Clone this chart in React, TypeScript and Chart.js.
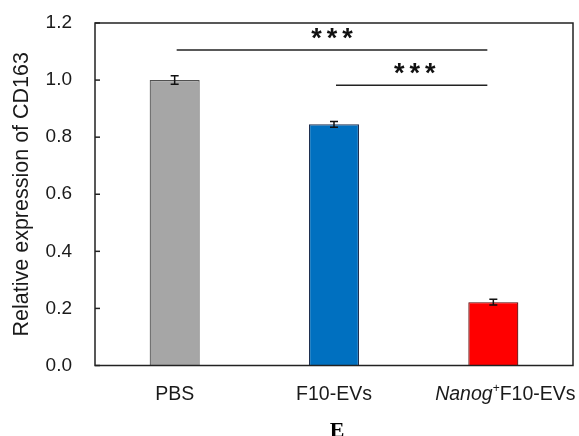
import React, { useEffect, useRef } from "react";
import { Chart, registerables } from "chart.js";

Chart.register(...registerables);

const categories = ["PBS", "F10-EVs", "Nanog+F10-EVs"];
const values = [1.0, 0.845, 0.222];
const errors = [0.015, 0.01, 0.01];
const barColors = ["#a6a6a6", "#0070c0", "#ff0000"];
const barBorders = ["#505050", "#1f2f4f", "#5a0000"];
const yTicks = [0, 0.2, 0.4, 0.6, 0.8, 1.0, 1.2];
// significance brackets: [fromIndex, toIndex, yValue, label]
const brackets: [number, number, number, string][] = [
  [0, 2, 1.105, "***"],
  [1, 2, 0.982, "***"],
];

const FONT = '"Liberation Sans", Arial, sans-serif';

const overlay = {
  id: "overlay",
  afterDatasetsDraw(chart: any) {
    const ctx = chart.ctx as CanvasRenderingContext2D;
    const x = chart.scales.x;
    const y = chart.scales.y;
    const a = chart.chartArea;
    ctx.save();
    // error bars
    ctx.strokeStyle = "#111";
    ctx.lineWidth = 1.5;
    values.forEach((v, i) => {
      const cx = x.getPixelForValue(i);
      const top = y.getPixelForValue(v + errors[i]);
      const bot = y.getPixelForValue(v - errors[i]);
      ctx.beginPath();
      ctx.moveTo(cx, top);
      ctx.lineTo(cx, bot);
      ctx.moveTo(cx - 4, top);
      ctx.lineTo(cx + 4, top);
      ctx.moveTo(cx - 4, bot);
      ctx.lineTo(cx + 4, bot);
      ctx.stroke();
    });
    // brackets
    ctx.strokeStyle = "#222";
    ctx.lineWidth = 1.5;
    ctx.fillStyle = "#111";
    ctx.font = `bold 27px ${FONT}`;
    ctx.textAlign = "center";
    ctx.textBaseline = "alphabetic";
    brackets.forEach(([f, t, v, label]) => {
      const x1 = x.getPixelForValue(f) + 2;
      const x2 = x.getPixelForValue(t) - 6;
      const py = y.getPixelForValue(v);
      ctx.beginPath();
      ctx.moveTo(x1, py);
      ctx.lineTo(x2, py);
      ctx.stroke();
      const mid = (x1 + x2) / 2 + (f === 1 ? 3 : 0);
      const n = label.length;
      for (let k = 0; k < n; k++) {
        ctx.fillText(label[k], mid + (k - (n - 1) / 2) * 15.5, py - 3);
      }
    });
    // frame
    ctx.strokeStyle = "#222";
    ctx.lineWidth = 1.5;
    ctx.strokeRect(a.left, a.top, a.right - a.left, a.bottom - a.top);
    // inward y ticks
    yTicks.forEach((t) => {
      const py = y.getPixelForValue(t);
      ctx.beginPath();
      ctx.moveTo(a.left, py);
      ctx.lineTo(a.left + 5, py);
      ctx.stroke();
    });
    // x labels
    ctx.fillStyle = "#1a1a1a";
    ctx.textBaseline = "middle";
    const ly = a.bottom + 29;
    const fs = 19.5;
    categories.forEach((c, i) => {
      const cx = x.getPixelForValue(i);
      if (c.startsWith("Nanog+")) {
        const p1 = "Nanog";
        const p2 = "+";
        const p3 = c.slice(6);
        ctx.font = `italic ${fs}px ${FONT}`;
        const w1 = ctx.measureText(p1).width;
        ctx.font = `12px ${FONT}`;
        const w2 = ctx.measureText(p2).width;
        ctx.font = `${fs}px ${FONT}`;
        const w3 = ctx.measureText(p3).width;
        let sx = cx + 12 - (w1 + w2 + w3) / 2;
        ctx.textAlign = "left";
        ctx.font = `italic ${fs}px ${FONT}`;
        ctx.fillText(p1, sx, ly);
        sx += w1;
        ctx.font = `12px ${FONT}`;
        ctx.fillText(p2, sx, ly - 6);
        sx += w2;
        ctx.font = `${fs}px ${FONT}`;
        ctx.fillText(p3, sx, ly);
      } else {
        ctx.textAlign = "center";
        ctx.font = `${fs}px ${FONT}`;
        ctx.fillText(c, cx, ly);
      }
    });
    // panel letter
    ctx.fillStyle = "#000";
    ctx.font = `bold 22px "Liberation Serif", serif`;
    ctx.textAlign = "center";
    ctx.textBaseline = "top";
    ctx.fillText("E", (a.left + a.right) / 2 + 3, a.bottom + 55);
    ctx.restore();
  },
};

export default function App() {
  const ref = useRef<HTMLCanvasElement>(null);
  useEffect(() => {
    document.body.style.margin = "0";
    const chart = new Chart(ref.current as HTMLCanvasElement, {
      type: "bar",
      data: {
        labels: categories,
        datasets: [
          {
            data: values,
            backgroundColor: barColors,
            borderColor: barBorders,
            borderWidth: 1.2,
            barPercentage: 0.314,
            categoryPercentage: 1,
          },
        ],
      },
      options: {
        animation: false,
        responsive: false,
        maintainAspectRatio: false,
        layout: { padding: { top: 23, right: 6, bottom: 62.5, left: 9.5 } },
        plugins: {
          legend: { display: false },
          tooltip: { enabled: false },
          title: { display: false },
        },
        scales: {
          x: {
            grid: { display: false },
            border: { display: false },
            ticks: { display: false },
          },
          y: {
            min: 0,
            max: 1.2,
            afterBuildTicks: (s: any) => {
              s.ticks = yTicks.map((v) => ({ value: v }));
            },
            afterFit: (s: any) => {
              s.width = 85.5;
            },
            grid: { display: false, drawTicks: true, tickLength: 22 },
            border: { display: false },
            ticks: {
              color: "#1a1a1a",
              font: { family: FONT, size: 19 },
              padding: 1,
              callback: (v: any) => Number(v).toFixed(1),
            },
            title: {
              display: true,
              text: "Relative expression of CD163",
              color: "#1a1a1a",
              font: { family: FONT, size: 21.5 },
              padding: { top: 0, bottom: 0 },
            },
          },
        },
      },
      plugins: [overlay],
    });
    return () => chart.destroy();
  }, []);
  return (
    <div style={{ width: 579, height: 436, background: "#fff" }}>
      <canvas ref={ref} width={579} height={436} />
    </div>
  );
}
